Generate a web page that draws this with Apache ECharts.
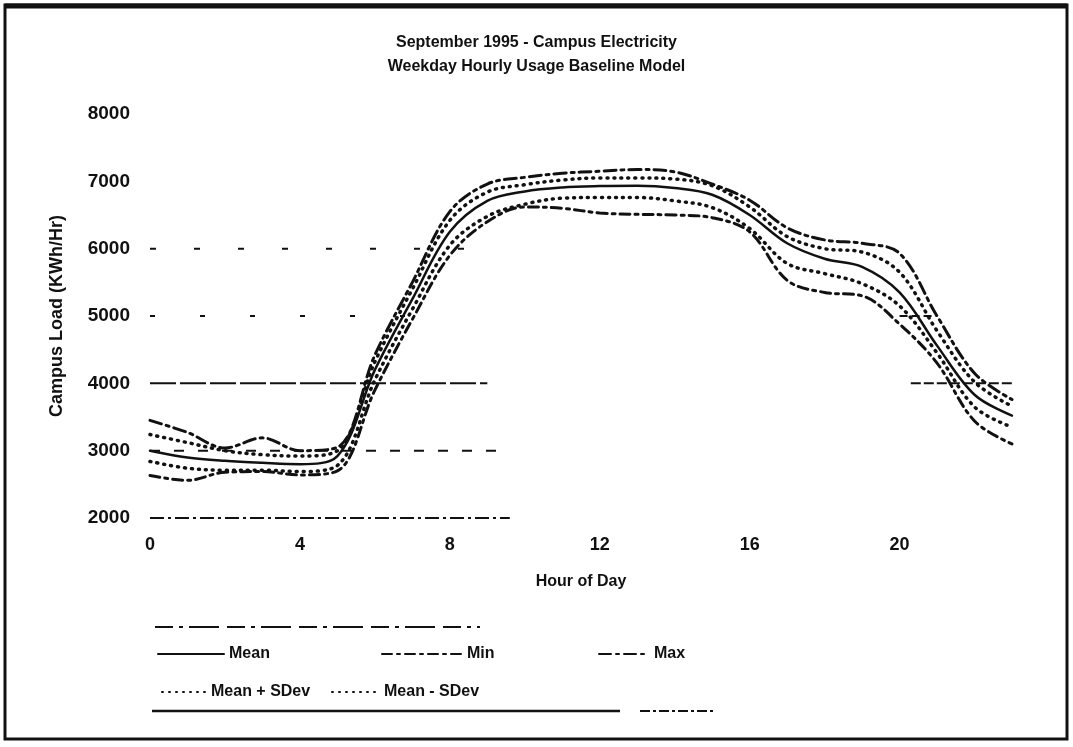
<!DOCTYPE html>
<html>
<head>
<meta charset="utf-8">
<script src="https://cdn.jsdelivr.net/npm/echarts@6/dist/echarts.min.js"></script>
<style>
  html, body { margin: 0; padding: 0; background: #fff; }
  #chart { width: 1073px; height: 747px; }
</style>
</head>
<body>
<div id="chart"></div>
<script>
// hour of day, 0..23
const hours = [0, 1, 2, 3, 4, 5, 6, 7, 8, 9, 10, 11, 12, 13, 14, 15, 16, 17, 18, 19, 20, 21, 22, 23]

// campus load, kWh/hr
const meanLoad = [3000, 2900, 2850, 2820, 2800, 2920, 4200, 5250, 6250, 6710, 6850, 6910, 6930, 6935, 6900, 6800, 6500, 6080, 5850, 5730, 5350, 4560, 3830, 3520]
const meanPlusSd = [3240, 3120, 3000, 2940, 2920, 3000, 4320, 5400, 6420, 6840, 6950, 7020, 7050, 7050, 7035, 6935, 6620, 6180, 6000, 5950, 5650, 4780, 4020, 3660]
const meanMinusSd = [2840, 2740, 2710, 2710, 2690, 2780, 4050, 5100, 6050, 6480, 6660, 6750, 6760, 6760, 6710, 6610, 6300, 5780, 5630, 5480, 5150, 4450, 3650, 3350]
const maxLoad = [3450, 3270, 3040, 3190, 3000, 3050, 4420, 5500, 6550, 6960, 7060, 7120, 7150, 7175, 7140, 6960, 6720, 6310, 6130, 6080, 5930, 5000, 4150, 3760]
const minLoad = [2630, 2560, 2680, 2690, 2640, 2700, 3900, 4950, 5900, 6400, 6620, 6600, 6530, 6510, 6500, 6460, 6250, 5530, 5350, 5300, 4880, 4300, 3440, 3100]

// leftover bits of the gridlines on the scan: level, from hour, to hour
const gridLevel = [2000, 3000, 4000, 4000, 5000, 5000, 6000]
const gridFrom = [0, 0, 0, 20.3, 0, 20, 0]
const gridTo = [9.6, 9.4, 9.0, 23.2, 7.2, 21, 9.3]

const yTicks = [2000, 3000, 4000, 5000, 6000, 7000, 8000]

const font = 'Liberation Sans, Arial, sans-serif'
const ink = '#111'

const pair = (xs, ys) => xs.map((x, i) => [x, ys[i]])

const chart = echarts.init(document.getElementById('chart'))

const gridDash = [
  [14, 4, 3, 4],
  [10, 14],
  [26, 4],
  [10, 3],
  [5, 45],
  [8, 4],
  [6, 38]
]

const gridSeries = gridLevel.map((lvl, i) => ({
  name: 'grid' + i,
  type: 'line',
  silent: true,
  symbol: 'none',
  z: 1,
  lineStyle: { color: ink, width: 2, type: gridDash[i] },
  data: [[gridFrom[i], lvl], [gridTo[i], lvl]]
}))

function curve(name, values, type, width, z) {
  return {
    name,
    type: 'line',
    smooth: 0.35,
    symbol: 'none',
    z,
    itemStyle: { color: ink },
    lineStyle: { color: ink, width, type, cap: 'round' },
    data: pair(hours, values)
  }
}

const legendText = { fontFamily: font, fontSize: 16, fontWeight: 'bold', color: ink }
function legendItem(name, left, top, w) {
  return {
    data: [name],
    left,
    top,
    itemWidth: w,
    itemHeight: 14,
    selectedMode: false,
    itemStyle: { opacity: 0 },
    textStyle: legendText
  }
}

chart.setOption({
  animation: false,
  title: {
    text: 'September 1995 - Campus Electricity',
    subtext: 'Weekday Hourly Usage Baseline Model',
    left: 'center',
    top: 30,
    itemGap: 8,
    textStyle: { fontFamily: font, fontSize: 16, fontWeight: 'bold', color: ink },
    subtextStyle: { fontFamily: font, fontSize: 16, fontWeight: 'bold', color: ink }
  },
  legend: [
    legendItem('Mean', 152, 641, 66),
    legendItem('Min', 376, 641, 80),
    legendItem('Max', 593, 641, 50),
    legendItem('Mean + SDev', 156, 679, 44),
    legendItem('Mean - SDev', 326, 679, 47)
  ],
  grid: { left: 150, right: 61, top: 114, bottom: 229 },
  xAxis: {
    type: 'value',
    min: 0,
    max: 23,
    interval: 4,
    name: 'Hour of Day',
    nameLocation: 'middle',
    nameGap: 56,
    nameTextStyle: { fontFamily: font, fontSize: 16, fontWeight: 'bold', color: ink },
    axisLine: { show: false },
    axisTick: { show: false },
    splitLine: { show: false },
    axisLabel: {
      margin: 18,
      showMaxLabel: false,
      fontFamily: font,
      fontSize: 18,
      fontWeight: 'bold',
      color: ink
    }
  },
  yAxis: {
    type: 'value',
    min: yTicks[0],
    max: yTicks[yTicks.length - 1],
    interval: 1000,
    name: 'Campus Load (KWh/Hr)',
    nameLocation: 'middle',
    nameGap: 84,
    nameTextStyle: { fontFamily: font, fontSize: 18, fontWeight: 'bold', color: ink },
    axisLine: { show: false },
    axisTick: { show: false },
    splitLine: { show: false },
    axisLabel: {
      margin: 20,
      formatter: v => String(v),
      fontFamily: font,
      fontSize: 19,
      fontWeight: 'bold',
      color: ink
    }
  },
  graphic: [
    // frame of the scanned page
    { type: 'rect', shape: { x: 5, y: 5, width: 1062, height: 734 }, style: { fill: 'none', stroke: ink, lineWidth: 3 } },
    { type: 'line', shape: { x1: 5, y1: 6, x2: 1067, y2: 6 }, style: { stroke: ink, lineWidth: 5 } },
    // pieces of the legend box
    { type: 'line', shape: { x1: 155, y1: 627, x2: 480, y2: 627 }, style: { stroke: ink, lineWidth: 2, lineDash: [18, 6, 4, 6, 30, 8] } },
    { type: 'line', shape: { x1: 152, y1: 711, x2: 620, y2: 711 }, style: { stroke: ink, lineWidth: 2.5 } },
    { type: 'line', shape: { x1: 640, y1: 711, x2: 715, y2: 711 }, style: { stroke: ink, lineWidth: 2, lineDash: [10, 3, 3, 3] } }
  ],
  series: [
    ...gridSeries,
    curve('Max', maxLoad, [12, 5, 3, 5], 3, 3),
    curve('Min', minLoad, [10, 5, 3, 5], 3, 3),
    curve('Mean + SDev', meanPlusSd, [1, 6], 3.5, 4),
    curve('Mean - SDev', meanMinusSd, [1, 6], 3.5, 4),
    curve('Mean', meanLoad, 'solid', 2.5, 5)
  ]
})
</script>
</body>
</html>
